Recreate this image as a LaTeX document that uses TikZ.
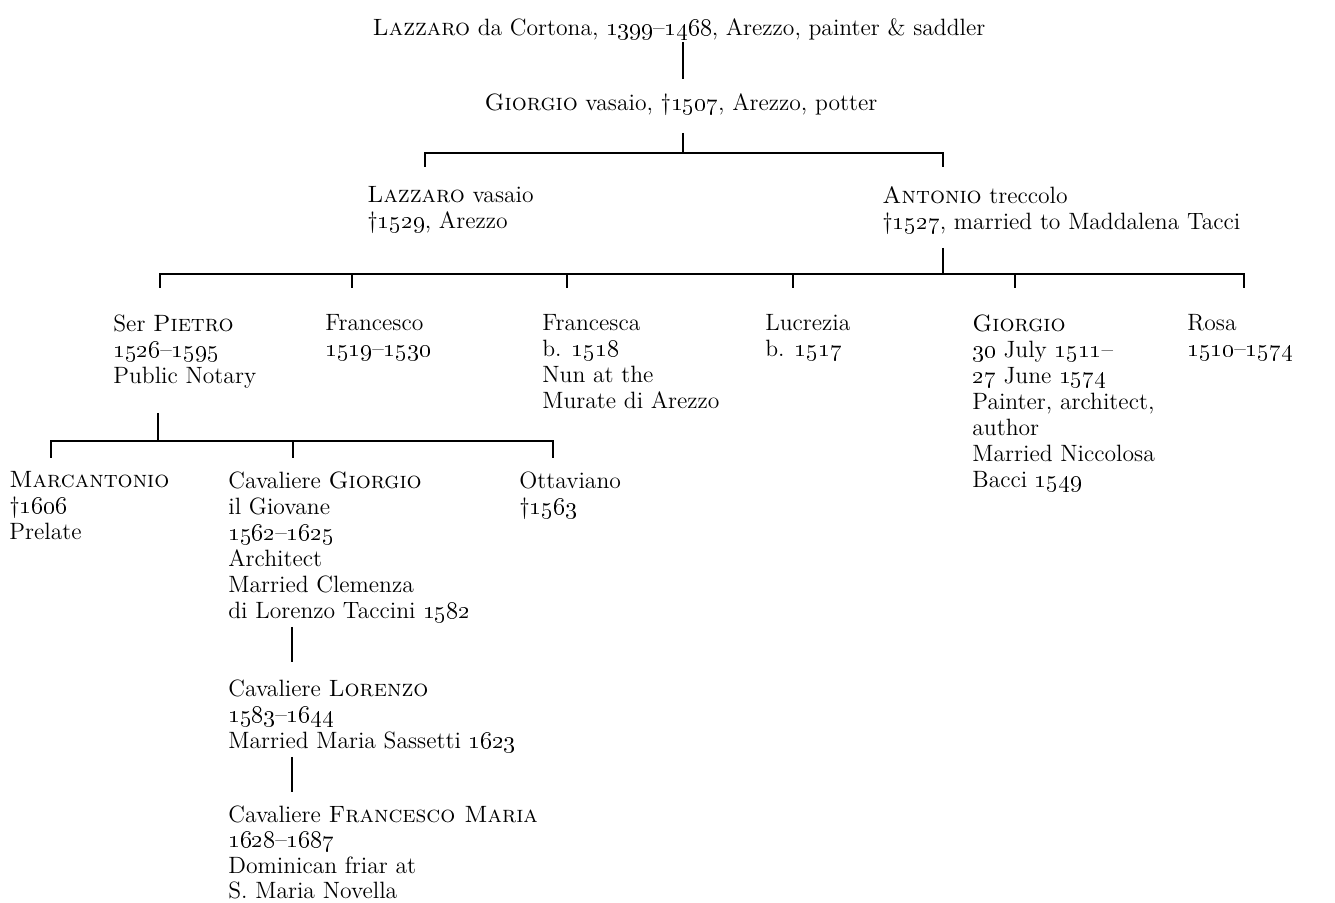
\documentclass[tikz,border=0pt]{standalone}
\newcommand\yr[1]{\oldstylenums{#1}}
\begin{document}
\begin{tikzpicture}[x=0.5pt, y=-0.5pt,
  person/.style={anchor=north west, align=left, inner sep=0pt,
    font=\fontsize{11.8}{13}\selectfont, execute at begin node=\strut},
  stem/.style={line width=0.7pt}]
  \useasboundingbox (0,0) rectangle (1335,903);

  % Ahnen
  \node[person, anchor=north] (cortona) at (679,17)
    {\textsc{Lazzaro} da Cortona, \yr{1399}–\yr{1468}, Arezzo, painter \& saddler};
  \node[person, anchor=north] (vasaio) at (681,92)
    {\textsc{Giorgio} vasaio, \textdagger\yr{1507}, Arezzo, potter};

  % Söhne
  \node[person] (lazzaro) at (367,186) {\textsc{Lazzaro} vasaio\\\textdagger\yr{1529}, Arezzo};
  \node[person] (antonio) at (882,186) {\textsc{Antonio} treccolo\\\textdagger\yr{1527}, married to Maddalena Tacci};

  % Enkel
  \node[person] (pietro) at (113,314) {Ser \textsc{Pietro}\\\yr{1526}–\yr{1595}\\Public Notary};
  \node[person] (francesco) at (325,314) {Francesco\\\yr{1519}–\yr{1530}};
  \node[person] (francesca) at (542,314) {Francesca\\b. \yr{1518}\\Nun at the\\Murate di Arezzo};
  \node[person] (lucrezia) at (765,314) {Lucrezia\\b. \yr{1517}};
  \node[person] (giorgio) at (972,314) {\textsc{Giorgio}\\\yr{30} July \yr{1511}–\\\yr{27} June \yr{1574}\\Painter, architect,\\author\\Married Niccolosa\\Bacci \yr{1549}};
  \node[person] (rosa) at (1187,314) {Rosa\\\yr{1510}–\yr{1574}};

  % Urenkel
  \node[person] (marcantonio) at (9,471) {\textsc{Marcantonio}\\\textdagger\yr{1606}\\Prelate};
  \node[person] (giovane) at (228,471) {Cavaliere \textsc{Giorgio}\\il Giovane\\\yr{1562}–\yr{1625}\\Architect\\Married Clemenza\\di Lorenzo Taccini \yr{1582}};
  \node[person] (ottaviano) at (519,471) {Ottaviano\\\textdagger\yr{1563}};
  \node[person] (lorenzo) at (228,679) {Cavaliere \textsc{Lorenzo}\\\yr{1583}–\yr{1644}\\Married Maria Sassetti \yr{1623}};
  \node[person, font=\fontsize{11.8}{12.8}\selectfont] (fmaria) at (228,805) {Cavaliere \textsc{Francesco Maria}\\\yr{1628}–\yr{1687}\\Dominican friar at\\S. Maria Novella};

  % Linien
  \coordinate (c1) at (683,42);  \coordinate (c2) at (683,79);
  \draw[stem] (c1) -- (c2);

  \coordinate (v1) at (683,133); \coordinate (v2) at (683,153);
  \draw[stem] (v1) -- (v2);
  \draw[stem] (425,167) -- (425,153) -- (943,153) -- (943,167);

  \coordinate (a1) at (943,248); \coordinate (a2) at (943,274);
  \draw[stem] (a1) -- (a2);
  \draw[stem] (160,288) -- (160,274) -- (1244,274) -- (1244,288);
  \foreach \x in {352,567,793,1015}
    \draw[stem] (\x,274) -- (\x,288);

  \coordinate (p1) at (158,413); \coordinate (p2) at (158,441);
  \draw[stem] (p1) -- (p2);
  \draw[stem] (51,458) -- (51,441) -- (553,441) -- (553,458);
  \draw[stem] (293,441) -- (293,458);

  \coordinate (g1) at (292,627); \coordinate (g2) at (292,662);
  \draw[stem] (g1) -- (g2);
  \coordinate (l1) at (292,757); \coordinate (l2) at (292,792);
  \draw[stem] (l1) -- (l2);
\end{tikzpicture}
\end{document}
